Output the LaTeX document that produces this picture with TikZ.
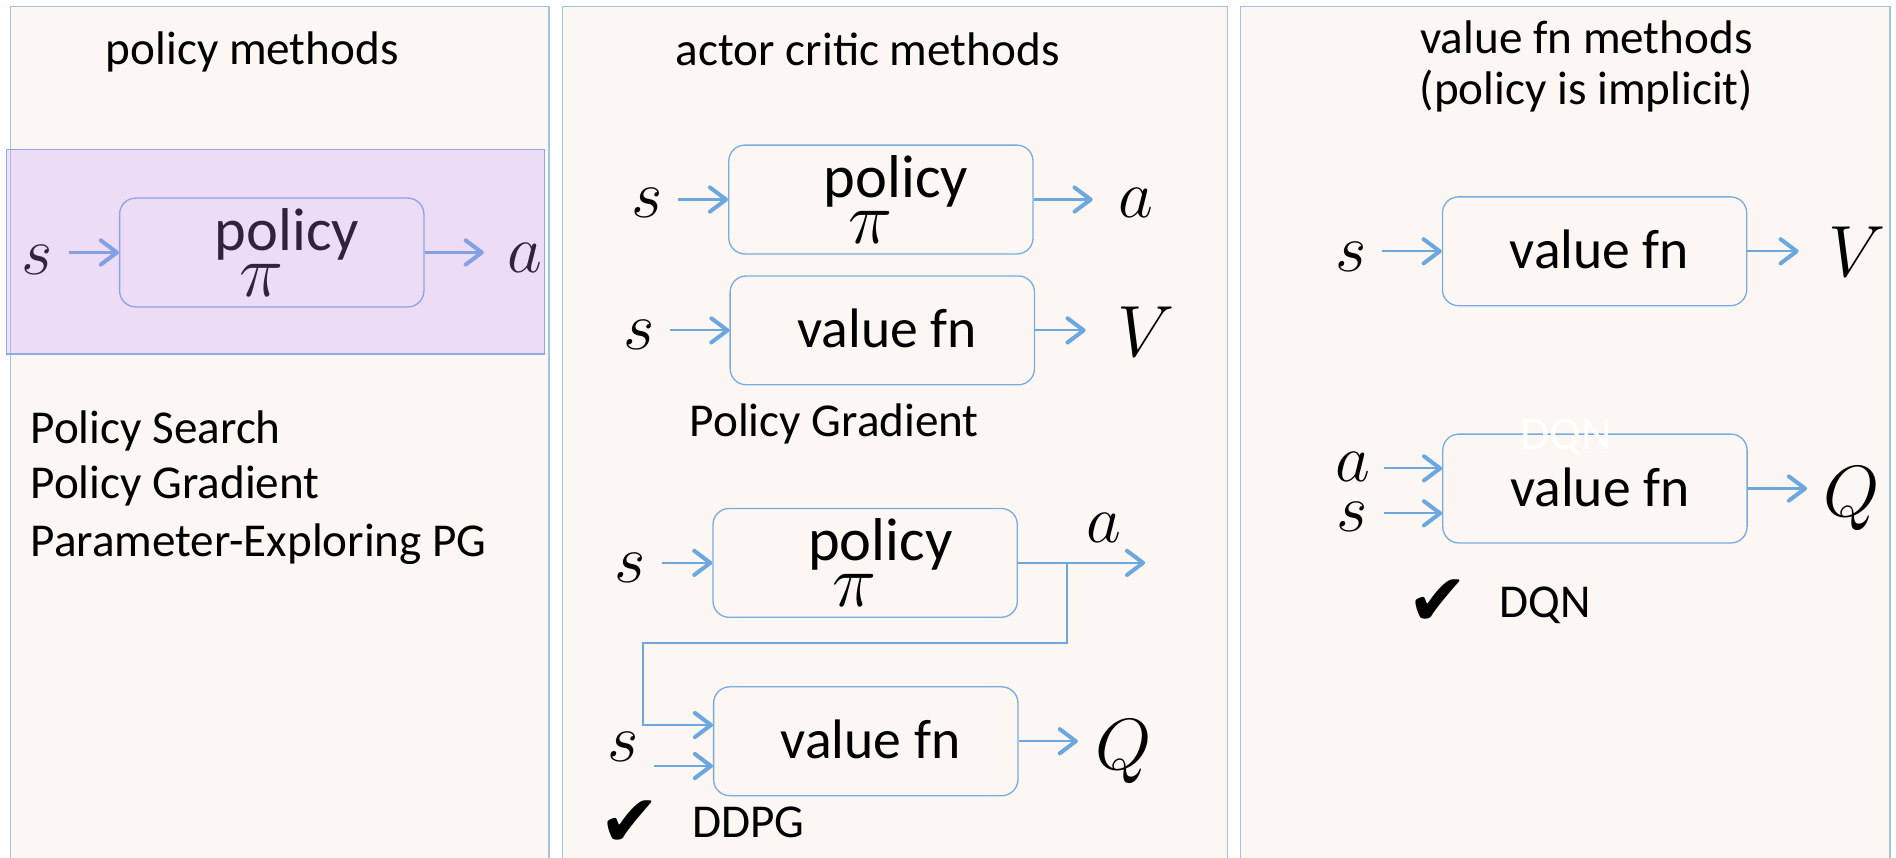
\RequirePackage{fix-cm}
\documentclass[tikz,border=0pt]{standalone}
\usepackage[no-math]{fontspec}
\setmainfont{Carlito}
\newfontfamily\checkfont{DejaVu Sans}
\usetikzlibrary{arrows.meta,calc}

\definecolor{paper}{RGB}{252,247,243}
\definecolor{frame}{RGB}{157,195,230}
\definecolor{flow}{RGB}{108,168,222}
\definecolor{boxline}{RGB}{120,172,222}
\definecolor{lilac}{RGB}{196,143,251}
\definecolor{lilacline}{RGB}{143,170,222}

\tikzset{
  panel/.style={draw=frame, line width=0.7pt, fill=paper},
  block/.style={draw=boxline, line width=0.65pt, rounded corners=8pt,
    minimum width=151pt, minimum height=54pt, inner sep=0pt},
  flowarrow/.style={draw=flow, line width=1.1pt,
    -{Straight Barb[length=8pt,width=12pt,line width=2pt,round]}},
  title/.style={font=\fontsize{23.4}{28}\selectfont, anchor=base, inner sep=0pt},
  listitem/.style={font=\fontsize{23.4}{28}\selectfont, anchor=base west, inner sep=0pt},
  boxword/.style={font=\fontsize{30}{36}\selectfont, anchor=base, inner sep=0pt},
  valueword/.style={font=\fontsize{27.6}{33}\selectfont, anchor=base, inner sep=0pt},
  var/.style={font=\fontsize{33.6}{40}\selectfont, inner sep=0pt},
  pivar/.style={font=\fontsize{37}{44}\selectfont, inner sep=0pt},
  bigvar/.style={font=\fontsize{36}{43}\selectfont, inner sep=0pt},
  tick/.style={font=\checkfont\fontsize{36}{40}\selectfont, inner sep=0pt},
}

\begin{document}
\begin{tikzpicture}[x=0.6pt, y=-0.6pt]
\useasboundingbox (0,0) rectangle (1568,709);
\fill[white] (0,0) rectangle (1568,709);
\clip (0,0) rectangle (1568,709);

% three columns
\draw[panel] (8.9,5.5) rectangle (454,715);
\draw[panel] (465,5.5) rectangle (1015,715);
\draw[panel] (1026,5.5) rectangle (1563,715);

% ---------- policy methods ----------
\node[title] (h1) at (208.6,53.7) {policy methods};
\node[block] (b1) at (224.75,208.8) {};
\node[boxword] (w1) at ($(b1.center)+(12.5,-2)$) {policy};
\node[pivar] (p1) at ($(b1.center)+(-8.5,23)$) {$\pi$};
\node[var] (s1) at (31,215) {$s$};
\node[var] (a1) at (434,213.6) {$a$};
\draw[flowarrow, shorten <=7.6pt] (s1.east |- b1.west) -- (b1.west);
\draw[flowarrow, shorten >=11.5pt] (b1.east) -- (a1.west |- b1.east);

\node[listitem] (l1) at (25,366.5) {Policy Search};
\node[listitem] (l2) at (25,412) {Policy Gradient};
\node[listitem] (l3) at (25,460.6) {Parameter-Exploring PG};

% highlight band over the policy diagram
\draw[draw=lilacline, line width=0.7pt, fill=lilac, fill opacity=0.25]
  (5.3,123.5) rectangle (450.4,292.9);

% ---------- actor critic methods ----------
\node[title] (h2) at (717.6,53.8) {actor critic methods};

\node[block] (b2) at (728.5,165) {};
\node[boxword] (w2) at ($(b2.center)+(12.5,-2)$) {policy};
\node[pivar] (p2) at ($(b2.center)+(-8.5,23)$) {$\pi$};
\node[var] (s2) at (535,168) {$s$};
\node[var] (a2) at (939.5,168) {$a$};
\draw[flowarrow, shorten <=7.7pt] (s2.east |- b2.west) -- (b2.west);
\draw[flowarrow, shorten >=12.7pt] (b2.east) -- (a2.west |- b2.east);

\node[block] (b3) at (729.65,273.2) {};
\node[valueword] (w3) at ($(b3.center)+(4,14.5)$) {value fn};
\node[var] (s3) at (528.5,277) {$s$};
\node[bigvar] (v1) at (948,274.3) {$V$};
\draw[flowarrow, shorten <=7.4pt] (s3.east |- b3.west) -- (b3.west);
\draw[flowarrow, shorten >=15.7pt] (b3.east) -- (v1.west |- b3.east);

\node[title] (g2) at (690,361) {Policy Gradient};

% DDPG: actor feeding the critic
\node[block] (b4) at (715.5,465.5) {};
\node[boxword] (w4) at ($(b4.center)+(12.5,-2)$) {policy};
\node[pivar] (p4) at ($(b4.center)+(-8.5,23)$) {$\pi$};
\node[var] (s4) at (521,469.3) {$s$};
\node[var] (a3) at (913,436.6) {$a$};
\coordinate (aout) at (947,465.5);
\coordinate (tap) at (882.6,465.5);
\coordinate (bend) at (531.8,532);
\draw[flowarrow, shorten <=8.1pt] (s4.east |- b4.west) -- (b4.west);
\draw[flowarrow] (b4.east) -- (b4.east -| aout);

\node[block] (b5) at (716,613) {};
\node[valueword] (w5) at ($(b5.center)+(4,14)$) {value fn};
\node[var] (s5) at (515,617.6) {$s$};
\node[bigvar, anchor=base] (q1) at (929,636.4) {$Q$};
\coordinate (b5hi) at ($(b5.west)+(0,-13.4)$);
\coordinate (b5lo) at ($(b5.west)+(0,20.5)$);
\draw[flowarrow] (tap) |- (bend) |- (b5hi);
\draw[flowarrow, shorten <=7.4pt] (s5.east |- b5lo) -- (b5lo);
\draw[flowarrow, shorten >=8.4pt] (b5.east) -- (q1.west |- b5.east);

\node[tick] (c1) at (521,681) {✔};
\node[listitem] (d1) at (572,693) {DDPG};

% ---------- value fn methods ----------
\node[title] (h3) at (1312,44) {value fn methods};
\node[title] (h3b) at (1312,86) {(policy is implicit)};

\node[block] (b6) at (1318.7,207.8) {};
\node[valueword] (w6) at ($(b6.center)+(4,14)$) {value fn};
\node[var] (s6) at (1117,212.3) {$s$};
\node[bigvar] (v2) at (1536,208) {$V$};
\draw[flowarrow, shorten <=7.8pt] (s6.east |- b6.west) -- (b6.west);
\draw[flowarrow, shorten >=14.7pt] (b6.east) -- (v2.west |- b6.east);

\node[block] (b7) at (1319,404) {};
\node[valueword] (w7) at ($(b7.center)+(4,14.5)$) {value fn};
\node[title, anchor=center, text=white] (ghost) at (1295,362) {DQN};
\node[var] (a4) at (1119,386.4) {$a$};
\node[var] (s7) at (1118,427.3) {$s$};
\node[bigvar, anchor=base] (q2) at (1531,427) {$Q$};
\coordinate (b7hi) at ($(b7.west)+(0,-16.7)$);
\coordinate (b7lo) at ($(b7.west)+(0,20.5)$);
\draw[flowarrow, shorten <=6.4pt] (a4.east |- b7hi) -- (b7hi);
\draw[flowarrow, shorten <=8.1pt] (s7.east |- b7lo) -- (b7lo);
\draw[flowarrow, shorten >=7.8pt] (b7.east) -- (q2.west |- b7.east);

\node[tick] (c2) at (1189,498) {✔};
\node[listitem] (d2) at (1240,511) {DQN};
\end{tikzpicture}
\end{document}
